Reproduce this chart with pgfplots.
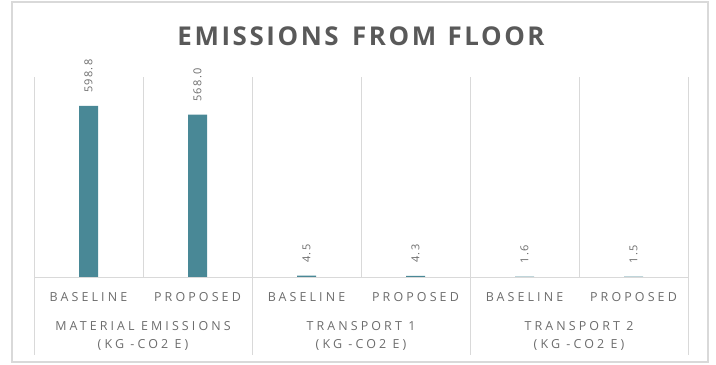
\documentclass[border=0pt]{standalone}
\usepackage{fontspec}
\setmainfont{Open Sans}
\usepackage{pgfplots}
\pgfplotsset{compat=1.18}
\definecolor{barc}{RGB}{73,136,150}
\definecolor{gridc}{RGB}{217,217,217}
\definecolor{lab}{RGB}{108,108,108}
\definecolor{ttl}{RGB}{89,89,89}
\newfontfamily\lsfont[LetterSpace=25]{Open Sans}
\newfontfamily\numfont[LetterSpace=12]{Open Sans}
\newfontfamily\ttlfont[LetterSpace=10]{Open Sans}
\begin{document}
\begin{tikzpicture}
\useasboundingbox (-34bp,-88bp) rectangle (682bp,277bp);
\draw[gridc, line width=1.5bp] (-22bp,-85bp) rectangle (674bp,275bp);
\begin{axis}[
  at={(0,0)}, anchor=south west,
  scale only axis, width=654bp, height=200bp,
  xmin=-0.5, xmax=5.5, ymin=0, ymax=700,
  clip=false,
  axis line style={draw=none},
  ytick=\empty,
  xtick={0,...,5},
  xticklabels={BASELINE,PROPOSED,BASELINE,PROPOSED,BASELINE,PROPOSED},
  x tick label style={font=\lsfont\fontsize{12.5}{15}\selectfont, text=lab, anchor=center, yshift=-20bp},
  major tick length=0,
  minor xtick={-0.5,0.5,1.5,2.5,3.5,4.5,5.5},
  minor tick length=0,
  xminorgrids,
  minor grid style={gridc, line width=1bp},
  ybar, bar width=19bp,
  /pgf/number format/assume math mode=true,
  /pgf/number format/fixed, /pgf/number format/fixed zerofill, /pgf/number format/precision=1,
  every node near coord/.append style={rotate=90, anchor=west, inner xsep=13bp, inner ysep=0pt, outer sep=0pt, font=\numfont\fontsize{11}{13}\selectfont, text=lab},
]
\addplot[fill=barc, draw=none, nodes near coords] coordinates {(0,598.8) (1,568.0) (2,4.5) (3,4.3) (4,1.6) (5,1.5)};
\end{axis}
\draw[gridc, line width=1bp] (0,0) -- (654bp,0);
\foreach \x in {0,218,436,654} {\draw[gridc, line width=1bp] (\x bp,0) -- (\x bp,-78bp);}
\foreach \x/\t in {109/{MATERIAL EMISSIONS},327/{TRANSPORT 1},545/{TRANSPORT 2}} {
  \node[font=\lsfont\fontsize{12.5}{18}\selectfont, text=lab, align=center] at (\x bp,-59bp) {\t\\(KG -CO2 E)};
}
\node[font=\ttlfont\bfseries\fontsize{26}{30}\selectfont, text=ttl] at (327bp,241bp) {EMISSIONS\hspace{4bp} FROM\hspace{2bp} FLOOR};
\end{tikzpicture}
\end{document}
